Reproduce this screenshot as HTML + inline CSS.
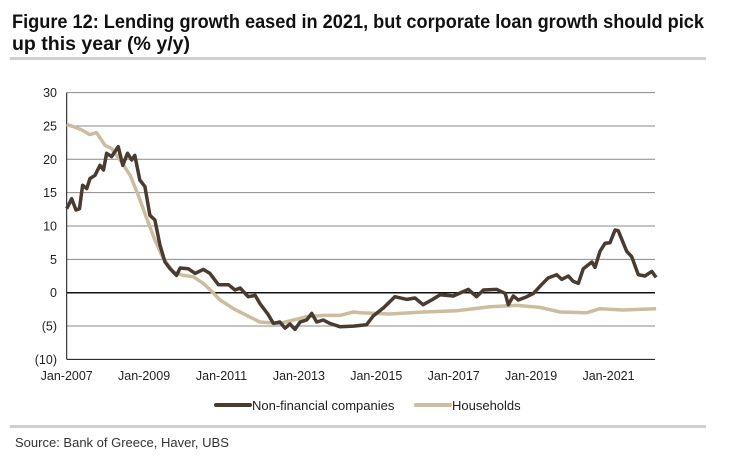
<!DOCTYPE html>
<html><head><meta charset="utf-8">
<style>
html,body{margin:0;padding:0;background:#fff;}
svg{display:block;font-family:"Liberation Sans Narrow","Liberation Sans",sans-serif;}
</style></head>
<body>
<svg id="chart" width="732" height="457" viewBox="0 0 732 457">
  <text x="12" y="28" font-size="19" font-weight="bold" fill="#111" textLength="692" lengthAdjust="spacingAndGlyphs">Figure 12: Lending growth eased in 2021, but corporate loan growth should pick</text>
  <text x="12" y="50" font-size="19" font-weight="bold" fill="#111" textLength="178" lengthAdjust="spacingAndGlyphs">up this year (% y/y)</text>
  <rect x="10" y="57" width="696" height="3" fill="#cfcfcf"/>
  <g id="grid"></g>
  <g id="yticks"></g>
  <g id="xticks"></g>
  <g id="series"></g>
  <g>
    <g>
      <line x1="216" y1="405" x2="250" y2="405" stroke="#4a3b30" stroke-width="4" stroke-linecap="round"/>
      <text x="252" y="410" font-size="13" fill="#222">Non-financial companies</text>
    </g>
    <g>
      <line x1="416" y1="405" x2="450" y2="405" stroke="#cbbd9d" stroke-width="4" stroke-linecap="round"/>
      <text x="452" y="410" font-size="13" fill="#222">Households</text>
    </g>
  </g>
  <rect x="10" y="425" width="696" height="3" fill="#cfcfcf"/>
  <text x="15" y="447" font-size="13" fill="#333">Source: Bank of Greece, Haver, UBS</text>
</svg>
<script>
const yTicks = [30,25,20,15,10,5,0,-5,-10];
const yTickLabels = ["30","25","20","15","10","5","0","(5)","(10)"];
const xTicks = [2007,2009,2011,2013,2015,2017,2019,2021];
const xTickLabels = ["Jan-2007","Jan-2009","Jan-2011","Jan-2013","Jan-2015","Jan-2017","Jan-2019","Jan-2021"];
const nfcDates = [2007.00,2007.13,2007.24,2007.33,2007.41,2007.52,2007.60,2007.73,2007.86,2007.95,2008.03,2008.16,2008.33,2008.45,2008.57,2008.68,2008.76,2008.89,2009.02,2009.15,2009.28,2009.41,2009.54,2009.67,2009.84,2009.93,2010.14,2010.32,2010.53,2010.70,2010.92,2011.18,2011.35,2011.48,2011.69,2011.87,2011.99,2012.21,2012.34,2012.51,2012.64,2012.77,2012.90,2013.03,2013.20,2013.33,2013.46,2013.63,2013.80,2014.06,2014.41,2014.75,2014.92,2015.18,2015.48,2015.79,2016.00,2016.21,2016.43,2016.65,2016.99,2017.38,2017.59,2017.77,2018.11,2018.33,2018.41,2018.54,2018.67,2018.89,2019.06,2019.27,2019.44,2019.66,2019.79,2019.96,2020.09,2020.22,2020.35,2020.57,2020.65,2020.78,2020.91,2021.04,2021.17,2021.25,2021.47,2021.60,2021.77,2021.94,2022.12,2022.23];
const nfcValues = [12.6,14.1,12.4,12.6,16.1,15.6,17.1,17.6,19.1,18.4,20.9,20.4,21.9,19.1,20.9,19.9,20.6,16.9,15.9,11.6,10.9,7.1,4.6,3.6,2.6,3.7,3.6,2.9,3.5,2.9,1.2,1.2,0.4,0.7,-0.6,-0.4,-1.6,-3.3,-4.6,-4.4,-5.3,-4.7,-5.5,-4.4,-4.1,-3.1,-4.4,-4.1,-4.6,-5.1,-5.0,-4.8,-3.5,-2.3,-0.6,-1.0,-0.8,-1.8,-1.1,-0.3,-0.5,0.5,-0.6,0.4,0.5,-0.1,-1.8,-0.5,-1.1,-0.6,-0.1,1.2,2.2,2.7,2.0,2.5,1.7,1.4,3.6,4.6,3.8,6.2,7.4,7.5,9.4,9.3,6.2,5.4,2.7,2.5,3.2,2.3];
const hhDates = [2007.00,2007.17,2007.39,2007.60,2007.77,2007.99,2008.16,2008.38,2008.64,2008.85,2009.07,2009.28,2009.50,2009.76,2010.01,2010.27,2010.53,2010.75,2010.96,2011.31,2011.65,2011.99,2012.25,2012.51,2012.86,2013.20,2013.63,2014.06,2014.41,2014.58,2015.35,2016.21,2017.08,2017.94,2018.63,2019.23,2019.75,2020.44,2020.78,2021.38,2022.23];
const hhValues = [25.2,24.9,24.4,23.7,24.0,22.1,21.6,19.9,17.6,14.6,11.1,7.9,5.1,3.1,2.6,2.4,1.4,0.2,-1.1,-2.4,-3.4,-4.4,-4.5,-4.6,-4.1,-3.6,-3.4,-3.4,-2.9,-3.0,-3.2,-2.9,-2.7,-2.1,-1.9,-2.2,-2.9,-3.0,-2.4,-2.6,-2.4];

const NS = "http://www.w3.org/2000/svg";
const X0 = 66.7, PX_PER_YEAR = 38.7, XR = 655;
const Y0 = 292.7, PX_PER_UNIT = 6.67;
function xScale(t){ return X0 + (t - 2007) * PX_PER_YEAR; }
function yScale(v){ return Y0 - v * PX_PER_UNIT; }
function mk(tag, attrs, parent){ const e=document.createElementNS(NS,tag); for(const k in attrs) e.setAttribute(k,attrs[k]); parent.appendChild(e); return e; }

const grid = document.getElementById('grid');
yTicks.forEach((v,i)=>{
  const isZero = v===0, isBottom = v===-10;
  const ln = mk('line',{x1:X0,x2:XR,y1:yScale(v),y2:yScale(v),stroke:(isZero||isBottom)?'#111':'#8a8a8a','stroke-width':isZero?1.5:1},grid);
  
  
  const t = mk('text',{x:57,y:yScale(v)+4.5,'text-anchor':'end','font-size':12.5,fill:'#222'},document.getElementById('yticks'));
  t.textContent = yTickLabels[i];
  
  
});
const ax = mk('line',{x1:X0,x2:X0,y1:yScale(30),y2:yScale(-10),stroke:'#111','stroke-width':1},grid);



xTicks.forEach((t,i)=>{
  const tx = mk('text',{x:xScale(t),y:380,'text-anchor':'middle','font-size':12.5,fill:'#222'},document.getElementById('xticks'));
  tx.textContent = xTickLabels[i];
  
  
});

function path(dates, vals){ return dates.map((d,i)=>(i?'L':'M')+xScale(d).toFixed(1)+','+yScale(vals[i]).toFixed(1)).join(''); }
const ser = document.getElementById('series');
const hh = mk('path',{d:path(hhDates,hhValues),fill:'none',stroke:'#cbbd9d','stroke-width':3.5,'stroke-linejoin':'round'},ser);


const nfc = mk('path',{d:path(nfcDates,nfcValues),fill:'none',stroke:'#4a3b30','stroke-width':3.5,'stroke-linejoin':'round'},ser);


</script>
</body></html>
